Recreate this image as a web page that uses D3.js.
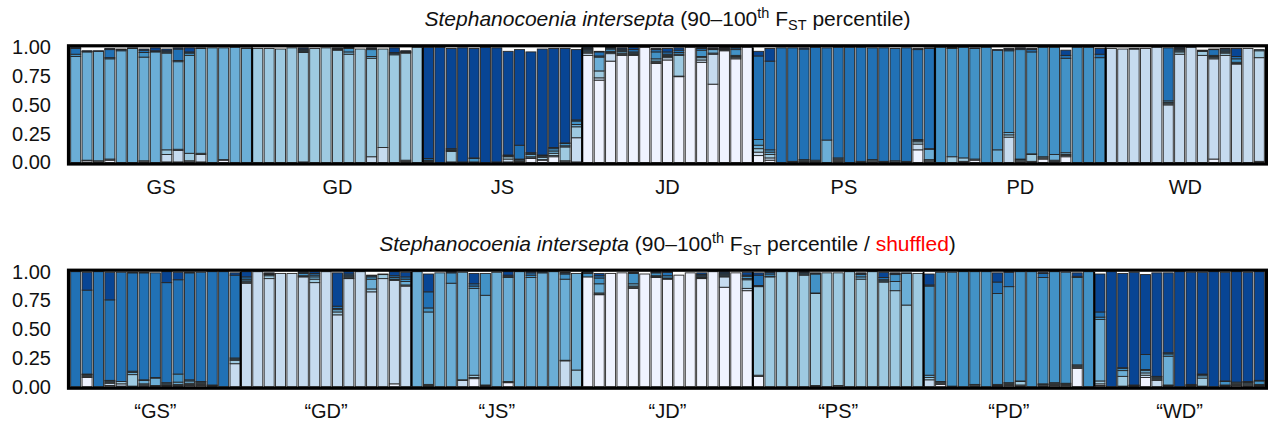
<!DOCTYPE html>
<html>
<head>
<meta charset="utf-8">
<script src="https://cdn.jsdelivr.net/npm/d3@7"></script>
<style>
body { margin: 0; background: #fff; }
svg text { font-family: "Liberation Sans", Arial, Helvetica, sans-serif; fill: #111; }
</style>
</head>
<body>
<svg id="chart" width="1268" height="423"></svg>
<script>
// ancestry proportions per individual, clusters ordered lightest -> darkest (K = 7)
const obsGroups = ["GS", "GD", "JS", "JD", "PS", "PD", "WD"];
const shufGroups = ["\u201cGS\u201d", "\u201cGD\u201d", "\u201cJS\u201d", "\u201cJD\u201d", "\u201cPS\u201d", "\u201cPD\u201d", "\u201cWD\u201d"];
const yTicks = [0, 0.25, 0.5, 0.75, 1];

const obsGS = [
	[0,0,0,.92,.02,.05,.01], [.015,.005,0,.94,.005,0,.005], [.005,.01,0,.95,0,0,.005],
	[.02,.01,0,.87,.01,.07,.01], [0,0,0,.97,0,.01,.005], [0,0,0,.99,0,0,.005],
	[.005,.01,0,.9,.04,.02,.01], [0,0,0,.96,.005,.005,.025], [.005,.065,.04,.84,.01,.01,.015],
	[.005,.1,.01,.76,.01,.1,.01], [.005,.01,.065,.85,.02,.01,.035], [.005,.065,.01,.91,0,0,.005],
	[0,0,0,.995,0,0,0], [.02,.005,0,.97,0,0,0], [0,0,0,1,0,0,0], [0,0,0,.99,.005,0,0]
];
const obsGD = [
	[0,0,.99,0,0,0,0], [0,0,.99,0,0,0,0], [0,0,.985,0,0,0,0], [0,0,.995,0,0,0,0],
	[0,.005,.95,.01,.01,.01,.01], [0,0,.99,0,0,0,0], [0,0,.995,0,0,0,0],
	[0,0,.975,.005,.005,.005,.005], [0,0,.94,.02,.03,.005,.005], [0,0,.985,0,0,0,0],
	[0,.05,.855,.015,.06,.01,.005], [0,.13,.855,0,0,0,0], [0,0,.935,0,.01,.01,.04],
	[.01,.01,.93,.005,.005,.005,.005], [0,0,1,0,0,0,0]
];
const obsJS = [
	[0,.005,.005,.005,.005,.015,.965], [0,0,0,0,0,0,1], [0,.005,.09,.01,.005,.01,.87],
	[0,0,0,0,0,.005,.99], [0,0,0,.005,.03,.005,.95], [0,0,0,0,0,0,1], [0,0,0,0,0,.005,.99],
	[.005,.025,.02,.005,.005,.005,.9], [.005,.005,.005,.01,.005,.12,.83],
	[.035,.005,.01,.02,.01,.005,.875], [.02,.005,.02,.01,.005,.005,.92],
	[.05,.01,.02,.02,.02,.01,.86], [.005,.01,.12,.01,.02,.005,.82], [.005,.21,.095,.02,.03,.01,.61]
];
const obsJD = [
	[.93,.02,.01,.01,.01,.01,.01], [.715,.02,.06,.12,.01,.035,.005], [.88,.065,.01,.01,.02,.01,.005],
	[.93,.01,.01,.015,.01,.01,.01], [.93,.005,.005,.01,.01,.02,.02], [1,0,0,0,0,0,0],
	[.86,.01,.01,.02,.06,.02,.01], [.89,.02,.01,.01,.01,.02,.03], [.745,.005,.18,.01,.015,.02,.02],
	[1,0,0,0,0,0,0], [.87,.02,.02,.01,.055,.015,.01], [.68,.26,.01,.03,.005,.005,.005],
	[.97,.005,.005,.005,.005,.005,.005], [.9,.01,.01,.01,.05,.015,.005], [1,0,0,0,0,0,0]
];
const obsPS = [
	[.06,.03,.03,.03,.05,.725,.04], [.02,.02,.03,.02,.02,.77,.11], [0,0,0,0,0,.995,0],
	[0,.005,.005,0,0,.985,0], [.005,.005,.01,.005,0,.96,.01], [.005,.005,.01,0,0,.98,0],
	[0,0,0,.195,0,.8,0], [.01,.01,.01,.01,0,.96,0], [0,0,0,0,0,1,0], [0,0,0,0,.01,.99,0],
	[.005,.01,.01,0,0,.97,0], [0,0,.005,.005,0,.985,0], [0,.005,.01,0,0,.975,0],
	[0,0,.005,0,.005,.985,0], [.11,.05,.02,.01,.01,.78,.01], [.005,.01,.01,.09,.005,.87,.005]
];
const obsPD = [
	[0,0,0,0,1,0,0], [0,0,.05,0,.94,.005,.005], [0,.01,.03,0,.96,0,0], [.02,.01,0,0,.96,0,.005],
	[0,0,0,0,1,0,0], [0,0,0,.11,.865,0,.005], [0,.22,.02,.02,.71,.01,.01],
	[.005,.01,.01,.005,.95,.01,.005], [0,.01,.06,.005,.885,.02,.01], [.03,.01,.01,0,.95,0,0],
	[0,.01,.01,.05,.93,0,0], [.05,.01,.01,.015,.82,.025,.045], [0,0,0,0,1,0,0],
	[0,0,0,0,1,0,0], [0,0,0,0,.91,.03,.05]
];
const obsWD = [
	[0,.99,0,0,0,0,0], [0,.985,0,0,0,0,0], [0,.985,0,0,0,0,.005], [0,.99,0,0,0,0,0],
	[0,1,0,0,0,0,0], [0,.5,.01,.01,.015,.46,0], [0,.94,.02,.01,.01,.01,.01], [0,1,0,0,0,0,0],
	[0,.93,.035,.005,.005,0,0], [.03,.87,.01,.01,.01,.05,.005], [0,.93,.02,.01,.01,.015,.005],
	[0,.855,.005,.01,.03,.02,.07], [0,.99,0,0,0,0,0], [.01,.9,.06,.01,0,0,0]
];

const shufGS = [
	[0,0,0,0,0,1,0], [.08,.01,.01,.005,.005,.73,.155], [0,0,0,0,0,1,0],
	[.01,.02,.01,.01,.005,.7,.24], [.005,.02,.02,0,0,.95,0], [0,.005,.1,.02,.01,.855,.005],
	[.005,.01,.01,.03,.005,.93,.005], [0,.005,.005,.065,.005,.91,0], [.005,.005,.005,.01,.01,.87,.095],
	[.005,.005,.01,.02,.07,.82,.065], [.01,.01,.01,.02,.01,.93,.005], [.01,.01,.01,.01,.005,.95,0],
	[0,.005,.005,.005,0,.985,0], [0,0,0,0,0,1,0], [0,.2,.03,.01,.01,.72,.02]
];
const shufGD = [
	[0,.9,.01,.01,.015,.02,.045], [0,1,0,0,0,0,0], [0,.94,.025,.01,.005,.005,.005],
	[0,.985,0,0,0,0,0], [0,.985,0,0,0,0,0], [0,.955,.005,.005,.02,.01,.005],
	[0,.905,.03,.02,.015,.015,.015], [0,1,0,0,0,0,0], [0,.625,.025,.02,.01,.02,.29],
	[0,.94,.005,.01,.01,.015,.02], [0,1,0,0,0,0,0], [0,.825,.025,.085,.02,.01,.005],
	[0,.94,.035,.005,0,0,0], [.025,.9,.005,.005,.015,.015,.035], [0,.875,.01,.03,.02,.02,.04]
];
const shufJS = [
	[0,0,0,1,0,0,0], [.005,.005,.01,.63,.035,.14,.155], [0,0,0,.99,0,0,0], [0,0,0,.9,.09,.005,.005],
	[0,.055,.005,.935,0,0,0], [.07,.01,.02,.755,.02,.02,.09], [.005,.005,.005,.78,.19,0,0],
	[0,0,0,.995,0,0,0], [.035,.005,.005,.905,.01,.01,.03], [0,0,0,1,0,0,0],
	[0,0,0,.95,.02,.02,.01], [0,0,0,.99,.005,.005,0], [0,0,0,1,0,0,0],
	[0,.225,.005,.705,.045,.01,.005], [0,0,.145,.84,0,0,0]
];
const shufJD = [
	[.955,0,0,0,.03,.01,.005], [.8,.005,.01,.08,.05,.02,.02], [.985,0,0,0,0,0,0], [.99,0,0,0,0,0,0],
	[.855,.01,.01,.02,.09,.005,.005], [.98,0,0,0,0,0,0], [.95,.005,.005,.005,.025,.005,.005],
	[.935,0,.005,.005,.02,.03,.005], [.97,0,0,0,0,0,0], [.99,0,0,0,0,0,0],
	[.94,.005,.005,.005,.01,.01,.015], [1,0,0,0,0,0,0], [.865,.09,.005,.01,.01,.01,.01],
	[.99,0,0,0,0,0,0], [.835,.02,.075,.01,.02,.01,.025]
];
const shufPS = [
	[.09,.01,.77,.005,.005,.09,.02], [0,0,.955,.005,.02,.015,.005], [0,0,1,0,0,0,0], [0,0,1,0,0,0,0],
	[0,0,.97,.01,.01,.005,.005], [.005,.005,.8,.005,.165,.005,.005], [0,0,.99,0,0,0,0],
	[0,.01,.98,0,0,0,0], [0,0,1,0,0,0,0], [0,0,.935,.02,.02,.01,.005], [0,0,1,0,0,0,0],
	[0,0,.91,.01,.01,.02,.045], [0,0,.835,.08,.06,.01,.005], [0,0,.71,.275,0,0,.005], [0,0,.985,0,0,0,0]
];
const shufPD = [
	[0,.06,.02,.02,.775,.01,.095], [.02,.01,.01,.005,.95,0,0], [0,0,0,.005,.99,0,0], [0,0,0,0,1,0,0],
	[.005,.01,.005,0,.98,0,0], [0,0,0,0,1,0,0], [.005,.005,.005,.005,.79,.1,.08],
	[.01,.01,.01,.005,.835,.125,.005], [.005,.01,.03,.005,.95,0,0], [0,0,0,0,1,0,0],
	[.005,.01,.005,.005,.925,.035,.01], [.01,.01,.01,.005,.965,0,0], [.01,.01,.005,.005,.965,0,0],
	[.16,.01,.01,.01,.76,.01,.03], [0,0,0,0,1,0,0]
];
const shufWD = [
	[.01,.015,.025,.535,.02,.045,.33], [0,0,0,0,0,0,1], [0,.005,.085,.05,.02,.005,.82],
	[0,.005,.005,.005,0,0,.98], [.08,.02,.02,.02,.01,.13,.695], [0,.055,.01,.01,.01,.005,.9],
	[.005,.005,.005,.25,.02,.01,.695], [0,0,0,0,0,0,1], [0,0,.005,.005,.005,.005,.975],
	[0,.005,.07,.02,.01,.005,.885], [0,0,0,0,0,0,1], [0,.005,.005,.005,.03,.005,.945],
	[.01,.01,.01,.01,0,0,.96], [.005,.01,.01,.01,.005,.005,.95], [.005,.005,.005,.005,.03,.005,.945]
];

const colors = d3.schemeBlues[7];
const left = 70, right = 1265;

/**
 * Draw one STRUCTURE-style panel.
 *
 * names: [string], group labels
 * groups: [[[number]]], per group a list of q-vectors
 * top, bottom: pixel y of 1.0 and 0.0
 * shuffled: bool, adds the red word to the title
 */
function drawPanel(svg, names, groups, top, bottom, shuffled) {
	var g = svg.append('g');

	var rows = [];
	groups.forEach(function (bars, gi) {
		bars.forEach(function (q, i) {
			rows.push({ id: gi + '-' + i, group: gi, q: q });
		});
	});

	var x = d3.scaleBand().domain(rows.map(r => r.id))
		.range([left, right]).paddingInner(0.12).paddingOuter(0.06);
	var y = d3.scaleLinear().domain([0, 1]).range([bottom, top]);

	var series = d3.stack().keys(d3.range(7)).value((d, k) => d.q[k])(rows);

	g.selectAll('g.layer').data(series).join('g')
		.attr('class', 'layer')
		.attr('fill', (s, k) => colors[k])
		.selectAll('rect').data(s => s.filter(d => d[1] - d[0] > 0)).join('rect')
		.attr('x', d => x(d.data.id))
		.attr('width', x.bandwidth())
		.attr('y', d => y(d[1]))
		.attr('height', d => y(d[0]) - y(d[1]))
		.attr('stroke', '#262626')
		.attr('stroke-width', 0.9);

	// group separators + labels
	var gap = x.step() * x.paddingInner() / 2;
	names.forEach(function (name, gi) {
		var ids = rows.filter(r => r.group === gi).map(r => r.id);
		var x0 = x(ids[0]) - gap;
		var x1 = x(ids[ids.length - 1]) + x.bandwidth() + gap;
		if (gi > 0) {
			g.append('line').attr('x1', x0).attr('x2', x0)
				.attr('y1', top).attr('y2', bottom)
				.attr('stroke', '#000').attr('stroke-width', 1.8);
		}
		g.append('text').attr('x', (x0 + x1) / 2).attr('y', bottom + 24)
			.attr('dy', '0.35em').attr('text-anchor', 'middle')
			.attr('font-size', 20).text(name);
	});

	// panel border
	g.append('rect').attr('x', left - 1.5).attr('y', top - 1.5)
		.attr('width', right - left + 3).attr('height', bottom - top + 3)
		.attr('fill', 'none').attr('stroke', '#000').attr('stroke-width', 3.2);

	var yAxis = d3.axisLeft(y).tickValues(yTicks).tickFormat(d3.format('.2f'))
		.tickSize(0).tickPadding(19);
	var ax = g.append('g').attr('transform', 'translate(' + left + ',0)').call(yAxis);
	ax.select('.domain').remove();
	ax.selectAll('text').attr('font-size', 20)
		.attr('font-family', '"Liberation Sans", Arial, sans-serif').attr('fill', '#111');

	// title
	var t = g.append('text').attr('x', (left + right) / 2).attr('y', top - 21)
		.attr('text-anchor', 'middle').attr('font-size', 21);
	t.append('tspan').attr('font-style', 'italic').text('Stephanocoenia intersepta');
	t.append('tspan').text(' (90\u2013100');
	t.append('tspan').attr('font-size', 14.5).attr('dy', -8).text('th');
	t.append('tspan').attr('dy', 8).text(' F');
	t.append('tspan').attr('font-size', 14.5).attr('dy', 4).text('ST');
	if (shuffled) {
		t.append('tspan').attr('dy', -4).text(' percentile / ');
		t.append('tspan').attr('fill', '#ff0000').style('fill', '#ff0000').text('shuffled');
		t.append('tspan').text(')');
	} else {
		t.append('tspan').attr('dy', -4).text(' percentile)');
	}
}

var svg = d3.select('#chart');
drawPanel(svg, obsGroups, [obsGS, obsGD, obsJS, obsJD, obsPS, obsPD, obsWD], 47.3, 162.5, false);
drawPanel(svg, shufGroups, [shufGS, shufGD, shufJS, shufJD, shufPS, shufPD, shufWD], 271.7, 386.7, true);
</script>
</body>
</html>
